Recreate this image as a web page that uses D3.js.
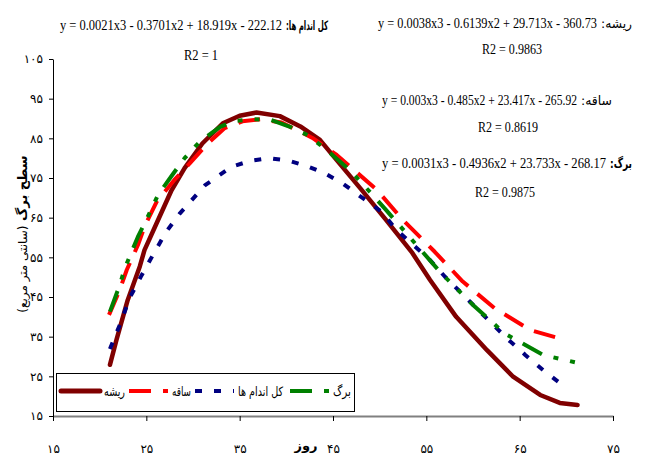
<!DOCTYPE html>
<html>
<head>
<meta charset="utf-8">
<script src="https://cdn.jsdelivr.net/npm/d3@7"></script>
<style>
    body { margin: 0; background: #fff; }
    #chart { width: 646px; height: 459px; }
    .fa { font-family: "DejaVu Sans", sans-serif; }
    .eq { font-family: "Liberation Serif", "Times New Roman", serif; font-size: 15px; }
</style>
</head>
<body>
<div id="chart"></div>
<script>

// days and leaf area for each organ
let rootDays  = [21.1, 21.8, 23.0, 24.3, 24.8, 26.1, 27.7, 29.1, 31.0, 33.2, 35.0, 36.8, 39.3, 41.5, 43.6, 45.4, 48.0, 50.7, 53.5, 55.4, 58.2, 61.5, 64.3, 67.2, 69.3, 71.2];
let rootArea  = [27.9, 34.2, 44.2, 52.7, 56.8, 63.6, 71.9, 77.5, 83.7, 88.8, 90.7, 91.5, 90.6, 88.0, 84.6, 79.5, 72.2, 64.4, 56.1, 49.3, 40.0, 31.6, 24.9, 20.3, 18.3, 17.8];

let stemDays  = [21.0, 22.15, 22.9, 24.1, 24.8, 26.1, 28.0, 29.7, 31.5, 33.4, 35.3, 37.2, 39.5, 42.8, 45.4, 47.5, 49.7, 52.5, 55.9, 58.9, 62.3, 66.1, 69.8];
let stemArea  = [40.5, 46.8, 51.8, 58.1, 62.7, 69.0, 74.5, 78.8, 83.5, 87.6, 89.3, 89.8, 89.0, 85.1, 80.8, 76.5, 72.0, 64.4, 56.4, 48.9, 42.2, 36.7, 34.2];

let wholeDays = [21.1, 22.3, 23.2, 24.5, 25.8, 27.15, 28.6, 31.3, 34.1, 36.1, 38.15, 40.2, 42.2, 44.1, 46.1, 48.2, 50.2, 51.8, 53.6, 55.2, 57.0, 58.8, 60.4, 62.2, 63.8, 65.6, 67.5, 69.6];
let wholeArea = [31.9, 38.8, 44.7, 50.5, 56.0, 61.5, 66.1, 73.2, 77.8, 79.3, 80.0, 79.4, 78.0, 76.2, 73.5, 69.9, 66.5, 61.9, 58.1, 54.8, 50.1, 45.9, 42.1, 37.9, 34.2, 30.4, 26.6, 22.8];

let leafDays  = [21.1, 22.15, 22.7, 24.1, 24.9, 26.25, 27.7, 29.1, 30.7, 32.9, 34.5, 36.4, 38.4, 40.4, 42.3, 44.3, 46.8, 49.1, 50.7, 53.8, 56.6, 60.0, 63.4, 67.5, 71.0];
let leafArea  = [41.3, 48.0, 52.3, 60.2, 64.0, 70.7, 75.5, 80.0, 84.1, 87.9, 89.4, 89.8, 89.6, 87.9, 85.8, 82.1, 77.0, 71.1, 66.9, 58.5, 51.0, 43.0, 35.8, 30.4, 28.5];

let seriesNames = ["ریشه", "ساقه", "کل اندام ها", "برگ"];

let xTicks = [15, 25, 35, 45, 55, 65, 75];
let yTicks = [15, 25, 35, 45, 55, 65, 75, 85, 95, 105];

let equations = ["y = 0.0021x3 - 0.3701x2 + 18.919x - 222.12", "y = 0.0038x3 - 0.6139x2 + 29.713x - 360.73",
                 "y = 0.003x3 - 0.485x2 + 23.417x - 265.92", "y = 0.0031x3 - 0.4936x2 + 23.733x - 268.17"];
let eqLabels = ["کل اندام ها:", "ریشه:", "ساقه:", "برگ:"];
let r2Labels = ["R2 = 1", "R2 = 0.9863", "R2 = 0.8619", "R2 = 0.9875"];


let faDigits = s => String(s).replace(/\d/g, d => "۰۱۲۳۴۵۶۷۸۹"[d]);

let margin = {top: 59, right: 33, bottom: 43, left: 53};
let width = 646 - margin.left - margin.right;
let height = 459 - margin.top - margin.bottom;

let svg = d3.select("#chart").append("svg")
    .attr("width", 646)
    .attr("height", 459);

let g = svg.append("g")
    .attr("transform", "translate(" + margin.left + "," + margin.top + ")");

let x = d3.scaleLinear().domain([15, 75]).range([0, width]);
let y = d3.scaleLinear().domain([15, 105]).range([height, 0]);

// axes
let xAxis = g.append("g")
    .attr("transform", "translate(0," + height + ")")
    .call(d3.axisBottom(x).tickValues(xTicks).tickSize(5).tickSizeOuter(0).tickPadding(23).tickFormat(faDigits));
xAxis.select(".domain").attr("stroke", "#808080").attr("stroke-width", 2);
xAxis.selectAll("text").attr("class", "fa").style("font-size", "12px").attr("fill", "#000");

let yAxis = g.append("g")
    .call(d3.axisLeft(y).tickValues(yTicks).tickSize(4).tickSizeOuter(0).tickPadding(6).tickFormat(faDigits));
yAxis.selectAll("text").attr("class", "fa").style("font-size", "12px").attr("fill", "#000");

// lines
let series = [
    {days: rootDays,  area: rootArea,  color: "#800000", dash: null,    w: 4.5},
    {days: stemDays,  area: stemArea,  color: "#ff0000", dash: "22,12", w: 4},
    {days: wholeDays, area: wholeArea, color: "#000080", dash: "7,12",  w: 4},
    {days: leafDays,  area: leafArea,  color: "#008000", dash: "22,12,5,12,5,12", w: 4}
];

let line = d3.line()
    .x(d => x(d[0]))
    .y(d => y(d[1]));

series.forEach(s => {
    g.append("path")
        .datum(d3.zip(s.days, s.area))
        .attr("fill", "none")
        .attr("stroke", s.color)
        .attr("stroke-width", s.w)
        .attr("stroke-linecap", s.dash ? "butt" : "round")
        .attr("stroke-linejoin", "round")
        .attr("stroke-dasharray", s.dash)
        .attr("d", line);
});

// legend
let legend = svg.append("g");
legend.append("rect")
    .attr("x", 56.5).attr("y", 373.5)
    .attr("width", 298).attr("height", 38)
    .attr("fill", "#fff").attr("stroke", "#000");

let legendX = [61, 129, 195, 290];
let legendTextW = [21, 19, 45, 18];
series.forEach((s, i) => {
    legend.append("line")
        .attr("x1", legendX[i]).attr("x2", legendX[i] + 39)
        .attr("y1", 391).attr("y2", 391)
        .attr("stroke", s.color)
        .attr("stroke-width", i == 0 ? 5 : 4)
        .attr("stroke-linecap", i == 0 ? "round" : "butt")
        .attr("stroke-dasharray", s.dash);
    legend.append("text")
        .attr("class", "fa")
        .attr("x", legendX[i] + 43).attr("y", 396)
        .attr("textLength", legendTextW[i])
        .attr("lengthAdjust", "spacingAndGlyphs")
        .style("font-size", "13px")
        .text(seriesNames[i]);
});

// trend line equations
let eqPos = [
    {x0: 60,  x1: 282, y: 30, lw: 42},
    {x0: 378, x1: 597, y: 28, lw: 31},
    {x0: 382, x1: 577, y: 105, lw: 31},
    {x0: 382, x1: 606, y: 168, lw: 22}
];
let r2Pos = [{x: 201, y: 60, w: 34}, {x: 512, y: 54, w: 60}, {x: 508, y: 132, w: 60}, {x: 505, y: 197, w: 60}];

eqPos.forEach((p, i) => {
    svg.append("text")
        .attr("class", "eq")
        .attr("x", p.x0).attr("y", p.y)
        .attr("textLength", p.x1 - p.x0)
        .attr("lengthAdjust", "spacingAndGlyphs")
        .text(equations[i]);
    svg.append("text")
        .attr("class", "fa")
        .attr("x", p.x1 + 4).attr("y", p.y)
        .attr("textLength", p.lw)
        .attr("lengthAdjust", "spacingAndGlyphs")
        .style("font-size", "13px")
        .style("font-weight", (i == 0 || i == 3) ? "bold" : "normal")
        .text(eqLabels[i] + "\u200F");
    svg.append("text")
        .attr("class", "eq")
        .attr("x", r2Pos[i].x - r2Pos[i].w / 2).attr("y", r2Pos[i].y)
        .attr("textLength", r2Pos[i].w)
        .attr("lengthAdjust", "spacingAndGlyphs")
        .text(r2Labels[i]);
});

// axis titles
svg.append("text")
    .attr("class", "fa")
    .attr("x", 306).attr("y", 450)
    .attr("text-anchor", "middle")
    .style("font-size", "13px")
    .style("font-weight", "bold")
    .text("روز");

let yTitle = svg.append("text")
    .attr("class", "fa")
    .attr("direction", "rtl")
    .attr("text-anchor", "middle")
    .attr("transform", "translate(27,234) rotate(-90)")
    .style("font-size", "13px");
yTitle.append("tspan").style("font-weight", "bold").text("سطح برگ ");
yTitle.append("tspan").style("font-size", "12px").text("(سانتی متر مربع)");

</script>
</body>
</html>
